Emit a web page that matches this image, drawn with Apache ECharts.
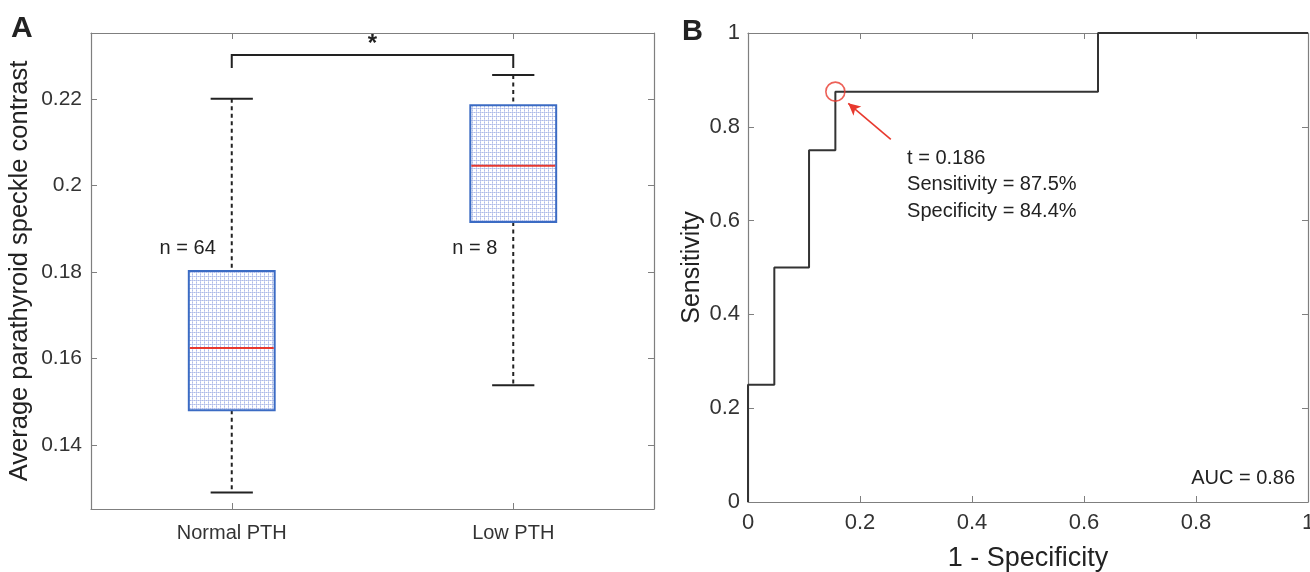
<!DOCTYPE html>
<html><head><meta charset="utf-8">
<script src="https://cdn.jsdelivr.net/npm/echarts@6/dist/echarts.min.js"></script>
<style>html,body{margin:0;padding:0;background:#fff}#c{width:1310px;height:572px}</style>
</head><body><div id="c"></div>
<script>
// ---------- Panel A data ----------
const groups = ['Normal PTH', 'Low PTH'];
const groupN = [64, 8];
const lowerWhisker = [0.129, 0.1538];
const q1 = [0.148, 0.1915];
const median = [0.1624, 0.2045];
const q3 = [0.1802, 0.2185];
const upperWhisker = [0.220, 0.2255];
const yTicksA = [0.14, 0.16, 0.18, 0.2, 0.22];
const significance = '*';

// ---------- Panel B data ----------
const rocFPR = [0, 0, 0.047, 0.047, 0.109, 0.109, 0.156, 0.156, 0.625, 0.625, 1];
const rocTPR = [0, 0.25, 0.25, 0.5, 0.5, 0.75, 0.75, 0.875, 0.875, 1, 1];
const optimalPoint = [0.156, 0.875];
const thresholdLines = ['t = 0.186', 'Sensitivity = 87.5%', 'Specificity = 84.4%'];
const aucLabel = 'AUC = 0.86';

// annotation anchor positions (data space)
const bracketBottom = 0.2271, bracketTop = 0.2301;
const nLabelY = 0.1855;
const arrowFrom = [0.255, 0.773], arrowTo = [0.179, 0.850];
const thresholdAnchor = [0.284, 0.7335];
const aucAnchor = [0.977, 0.051];

const FONT = 'Liberation Sans, Arial, Helvetica, sans-serif';
const AXIS_GRAY = '#7f7f7f';

// dotted fill pattern
const pc = document.createElement('canvas');
pc.width = 4; pc.height = 4;
const g = pc.getContext('2d');
g.fillStyle = '#ffffff'; g.fillRect(0, 0, 4, 4);
g.fillStyle = '#cdd5f1'; g.fillRect(0, 0, 4, 1); g.fillRect(0, 0, 1, 4);
g.fillStyle = '#aebbe8'; g.fillRect(0, 0, 1, 1); g.fillRect(2, 0, 1, 1); g.fillRect(0, 2, 1, 1);
const boxPattern = { image: pc, repeat: 'repeat' };

const boxData = groups.map((_, i) => [i, lowerWhisker[i], q1[i], median[i], q3[i], upperWhisker[i]]);
const rocData = rocFPR.map((x, i) => [x, rocTPR[i]]);

function renderBox(params, api) {
  const idx = api.value(0);
  const band = api.size([1, 0])[0];
  const bw = band * 0.305, cw = band * 0.15;
  const pLo = api.coord([idx, api.value(1)]);
  const pQ1 = api.coord([idx, api.value(2)]);
  const pMed = api.coord([idx, api.value(3)]);
  const pQ3 = api.coord([idx, api.value(4)]);
  const pHi = api.coord([idx, api.value(5)]);
  const x = pLo[0];
  const dash = { stroke: '#222', lineWidth: 2, lineDash: [4, 3.5] };
  const solid = { stroke: '#222', lineWidth: 2 };
  return {
    type: 'group', children: [
      { type: 'line', shape: { x1: x, y1: pHi[1], x2: x, y2: pQ3[1] }, style: dash },
      { type: 'line', shape: { x1: x, y1: pQ1[1], x2: x, y2: pLo[1] }, style: dash },
      { type: 'line', shape: { x1: x - cw / 2, y1: pHi[1], x2: x + cw / 2, y2: pHi[1] }, style: solid },
      { type: 'line', shape: { x1: x - cw / 2, y1: pLo[1], x2: x + cw / 2, y2: pLo[1] }, style: solid },
      { type: 'rect', shape: { x: x - bw / 2, y: pQ3[1], width: bw, height: pQ1[1] - pQ3[1] },
        style: { fill: boxPattern, stroke: '#3b6bc4', lineWidth: 2 } },
      { type: 'line', shape: { x1: x - bw / 2 + 1, y1: pMed[1], x2: x + bw / 2 - 1, y2: pMed[1] },
        style: { stroke: '#e8392e', lineWidth: 2 } },
      { type: 'text', style: { text: 'n = ' + groupN[idx], x: x - 16, y: api.coord([idx, nLabelY])[1],
        align: 'right', verticalAlign: 'middle', fontSize: 20, fontFamily: FONT, fill: '#222' } }
    ]
  };
}

function renderBracket(params, api) {
  const a = api.coord([0, bracketBottom]), b = api.coord([0, bracketTop]);
  const c = api.coord([1, bracketTop]), d = api.coord([1, bracketBottom]);
  return {
    type: 'group', children: [
      { type: 'polyline', shape: { points: [a, b, c, d] }, style: { stroke: '#222', lineWidth: 2, fill: null } },
      { type: 'text', style: { text: significance, x: (b[0] + c[0]) / 2, y: b[1] + 1, align: 'center',
        verticalAlign: 'bottom', fontSize: 24, fontWeight: 'bold', fontFamily: FONT, fill: '#222' } }
    ]
  };
}

function renderAnnotB(params, api) {
  const p = api.coord(thresholdAnchor);
  const q = api.coord(aucAnchor);
  const children = thresholdLines.map((t, i) => ({
    type: 'text', style: { text: t, x: p[0], y: p[1] + i * 26.5, align: 'left', verticalAlign: 'middle',
      fontSize: 20, fontFamily: FONT, fill: '#222' }
  }));
  children.push({ type: 'text', style: { text: aucLabel, x: q[0], y: q[1], align: 'right', verticalAlign: 'middle',
    fontSize: 20, fontFamily: FONT, fill: '#222' } });
  return { type: 'group', children };
}

const tickStyle = { show: true, inside: true, length: 6, lineStyle: { color: AXIS_GRAY, width: 1 } };
const lineStyleAx = { show: true, onZero: false, lineStyle: { color: AXIS_GRAY, width: 1.2 } };

const chart = echarts.init(document.getElementById('c'), null, { renderer: 'canvas' });
chart.setOption({
  animation: false,
  backgroundColor: '#fff',
  textStyle: { fontFamily: FONT },
  graphic: [
    { type: 'text', left: 11, top: 14, style: { text: 'A', fontSize: 30, fontWeight: 'bold', fontFamily: FONT, fill: '#222' } },
    { type: 'text', left: 682, top: 17, style: { text: 'B', fontSize: 29, fontWeight: 'bold', fontFamily: FONT, fill: '#222' } }
  ],
  grid: [
    { left: 91, top: 33, width: 563, height: 476, outerBoundsMode: 'none', containLabel: false },
    { left: 748, top: 33, width: 560, height: 469, outerBoundsMode: 'none', containLabel: false }
  ],
  xAxis: [
    { gridIndex: 0, type: 'category', data: groups, position: 'bottom',
      axisLine: lineStyleAx, axisTick: Object.assign({ alignWithLabel: true }, tickStyle),
      axisLabel: { fontSize: 20, color: '#333', margin: 14, fontFamily: FONT } },
    { gridIndex: 0, type: 'category', data: groups, position: 'top',
      axisLine: lineStyleAx, axisTick: Object.assign({ alignWithLabel: true }, tickStyle), axisLabel: { show: false } },
    { gridIndex: 1, type: 'value', min: 0, max: 1, interval: 0.2, position: 'bottom',
      axisLine: lineStyleAx, axisTick: tickStyle, splitLine: { show: false },
      axisLabel: { fontSize: 22, color: '#333', margin: 10, fontFamily: FONT },
      name: '1 - Specificity', nameLocation: 'middle', nameGap: 43,
      nameTextStyle: { fontSize: 27, color: '#222', fontFamily: FONT } },
    { gridIndex: 1, type: 'value', min: 0, max: 1, interval: 0.2, position: 'top',
      axisLine: lineStyleAx, axisTick: tickStyle, splitLine: { show: false }, axisLabel: { show: false } }
  ],
  yAxis: [
    { gridIndex: 0, type: 'value', min: 0.1252, max: 0.2352, position: 'left',
      axisLine: lineStyleAx, axisTick: Object.assign({ customValues: yTicksA }, tickStyle), splitLine: { show: false },
      axisLabel: { customValues: yTicksA, fontSize: 21, color: '#333', margin: 9, fontFamily: FONT },
      name: 'Average parathyroid speckle contrast', nameLocation: 'middle', nameGap: 58,
      nameTextStyle: { fontSize: 25.5, color: '#222', fontFamily: FONT } },
    { gridIndex: 0, type: 'value', min: 0.1252, max: 0.2352, position: 'right',
      axisLine: lineStyleAx, axisTick: Object.assign({ customValues: yTicksA }, tickStyle), splitLine: { show: false },
      axisLabel: { show: false } },
    { gridIndex: 1, type: 'value', min: 0, max: 1, interval: 0.2, position: 'left',
      axisLine: lineStyleAx, axisTick: tickStyle, splitLine: { show: false },
      axisLabel: { fontSize: 22, color: '#333', margin: 8, fontFamily: FONT },
      name: 'Sensitivity', nameLocation: 'middle', nameGap: 43,
      nameTextStyle: { fontSize: 25, color: '#222', fontFamily: FONT } },
    { gridIndex: 1, type: 'value', min: 0, max: 1, interval: 0.2, position: 'right',
      axisLine: lineStyleAx, axisTick: tickStyle, splitLine: { show: false }, axisLabel: { show: false } }
  ],
  series: [
    { type: 'custom', xAxisIndex: 0, yAxisIndex: 0, data: boxData, renderItem: renderBox,
      encode: { x: 0, y: [1, 2, 3, 4, 5] }, z: 5 },
    { type: 'custom', xAxisIndex: 0, yAxisIndex: 0, data: [[0, bracketTop]], renderItem: renderBracket, z: 5 },
    { type: 'line', xAxisIndex: 2, yAxisIndex: 2, data: rocData, showSymbol: false, clip: false,
      lineStyle: { color: '#333', width: 2 }, z: 5 },
    { type: 'scatter', xAxisIndex: 2, yAxisIndex: 2, data: [optimalPoint], symbol: 'circle', symbolSize: 19,
      itemStyle: { color: 'rgba(0,0,0,0)', borderColor: '#e8392e', borderWidth: 1.6 }, z: 6,
      markLine: { silent: true, symbol: ['none', 'arrow'], symbolSize: [9, 12], label: { show: false },
        lineStyle: { color: '#e8392e', width: 1.6, type: 'solid' },
        data: [[{ coord: arrowFrom }, { coord: arrowTo }]] } },
    { type: 'custom', xAxisIndex: 2, yAxisIndex: 2, data: [[0, 0]], renderItem: renderAnnotB, z: 5 }
  ]
});
</script></body></html>
